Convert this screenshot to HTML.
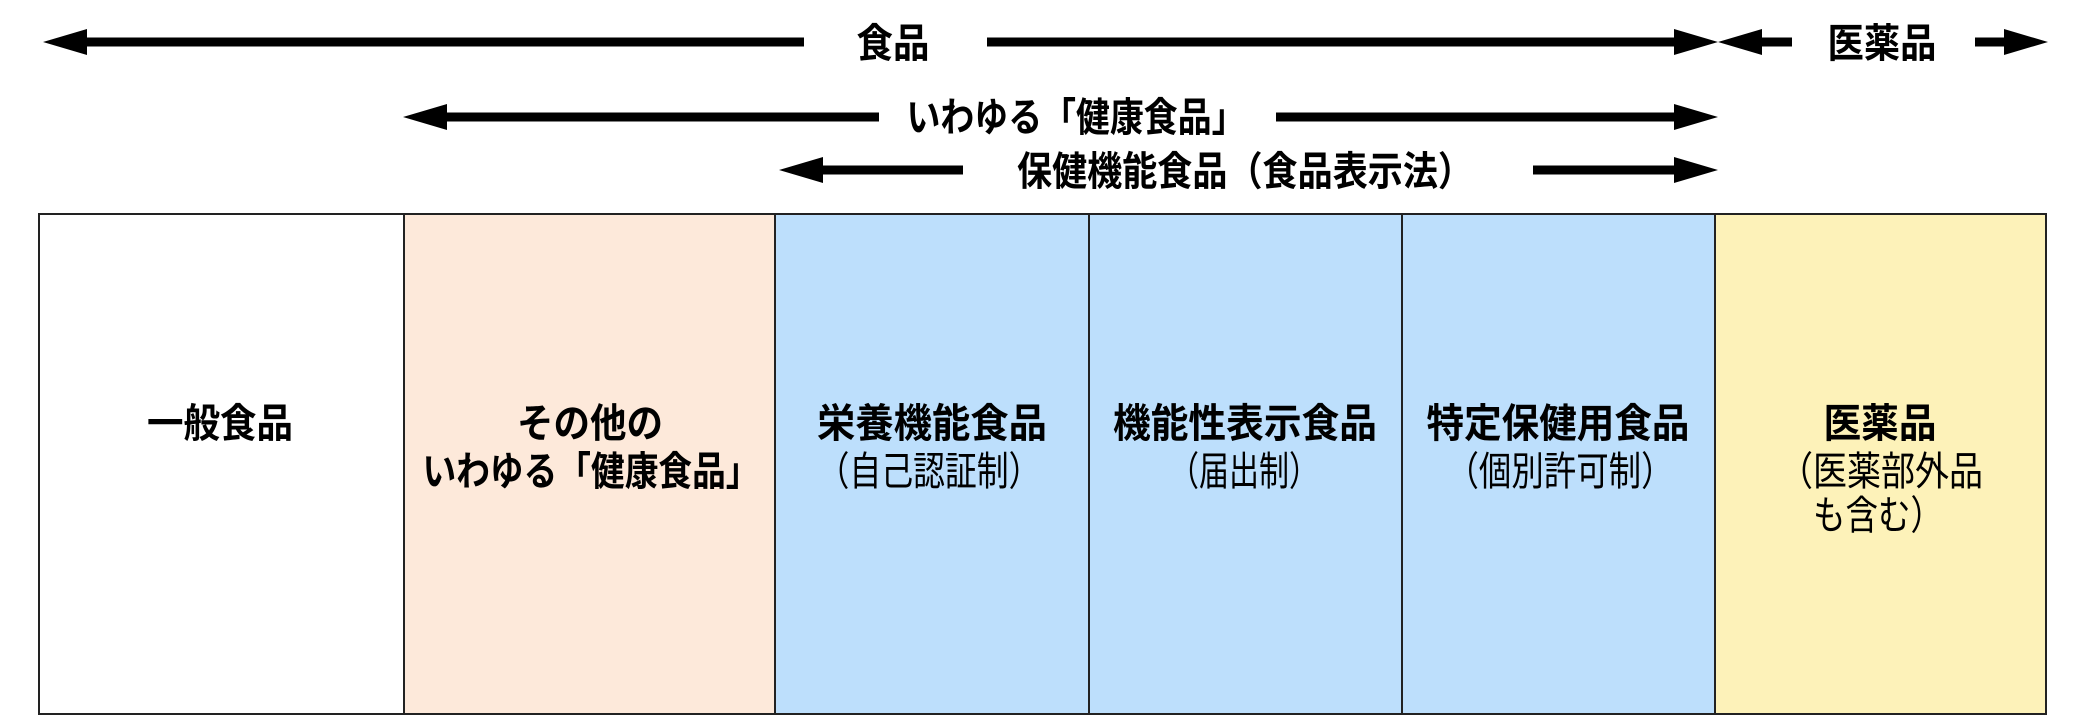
<!DOCTYPE html>
<html><head><meta charset="utf-8"><style>
html,body{margin:0;padding:0;background:#fff;}
svg{display:block;}
text{font-family:"Liberation Sans","Noto Sans CJK JP",sans-serif;fill:#000;}
</style></head><body>
<svg width="2092" height="717" viewBox="0 0 2092 717" xmlns="http://www.w3.org/2000/svg">
<g fill="#000">
<rect x="80" y="37.5" width="724" height="9"/>
<polygon points="43,42 87,29 87,55"/>
<rect x="987" y="37.5" width="690" height="9"/>
<polygon points="1718,42 1674,29 1674,55"/>
<polygon points="1718,42 1762,29 1762,55"/>
<rect x="1755" y="37.5" width="37" height="9"/>
<rect x="1975" y="37.5" width="35" height="9"/>
<polygon points="2048,42 2004,29 2004,55"/>
<rect x="440" y="112.5" width="439" height="9"/>
<polygon points="403,117 447,104 447,130"/>
<rect x="1276" y="112.5" width="402" height="9"/>
<polygon points="1718,117 1674,104 1674,130"/>
<rect x="815" y="165.5" width="148" height="9"/>
<polygon points="779,170 823,157 823,183"/>
<rect x="1533" y="165.5" width="145" height="9"/>
<polygon points="1718,170 1674,157 1674,183"/>
</g>
<g font-size="40" text-anchor="middle" lengthAdjust="spacingAndGlyphs">
<text x="893" y="57" font-weight="bold" textLength="73" lengthAdjust="spacingAndGlyphs">食品</text>
<text x="1882" y="57" font-weight="bold" textLength="109" lengthAdjust="spacingAndGlyphs">医薬品</text>
<text x="1076" y="131" font-weight="bold" textLength="339" lengthAdjust="spacingAndGlyphs">いわゆる「健康食品」</text>
<text x="1245" y="185" font-weight="bold" textLength="456" lengthAdjust="spacingAndGlyphs">保健機能食品（食品表示法）</text>
</g>
<g stroke="#222" stroke-width="2">
<rect x="39" y="214" width="365" height="500" fill="#fff"/>
<rect x="404" y="214" width="371" height="500" fill="#fde9da"/>
<rect x="775" y="214" width="314" height="500" fill="#bddffc"/>
<rect x="1089" y="214" width="313" height="500" fill="#bddffc"/>
<rect x="1402" y="214" width="313" height="500" fill="#bddffc"/>
<rect x="1715" y="214" width="331" height="500" fill="#fdf2b9"/>
</g>
<g font-size="40" text-anchor="middle">
<text x="220" y="437" font-weight="bold" textLength="146" lengthAdjust="spacingAndGlyphs">一般食品</text>
<text x="590" y="437" font-weight="bold" textLength="146" lengthAdjust="spacingAndGlyphs">その他の</text>
<text x="591" y="485" font-weight="bold" textLength="337" lengthAdjust="spacingAndGlyphs">いわゆる「健康食品」</text>
<text x="932" y="437" font-weight="bold" textLength="230" lengthAdjust="spacingAndGlyphs">栄養機能食品</text>
<text x="929" y="485" textLength="223" lengthAdjust="spacingAndGlyphs">（自己認証制）</text>
<text x="1245" y="437" font-weight="bold" textLength="264" lengthAdjust="spacingAndGlyphs">機能性表示食品</text>
<text x="1244" y="485" textLength="150" lengthAdjust="spacingAndGlyphs">（届出制）</text>
<text x="1558" y="437" font-weight="bold" textLength="263" lengthAdjust="spacingAndGlyphs">特定保健用食品</text>
<text x="1560" y="485" textLength="227" lengthAdjust="spacingAndGlyphs">（個別許可制）</text>
<text x="1880" y="437" font-weight="bold" textLength="113" lengthAdjust="spacingAndGlyphs">医薬品</text>
<text x="1881" y="485" textLength="204" lengthAdjust="spacingAndGlyphs">（医薬部外品</text>
<text x="1878" y="529" textLength="130" lengthAdjust="spacingAndGlyphs">も含む）</text>
</g>
</svg>
</body></html>
